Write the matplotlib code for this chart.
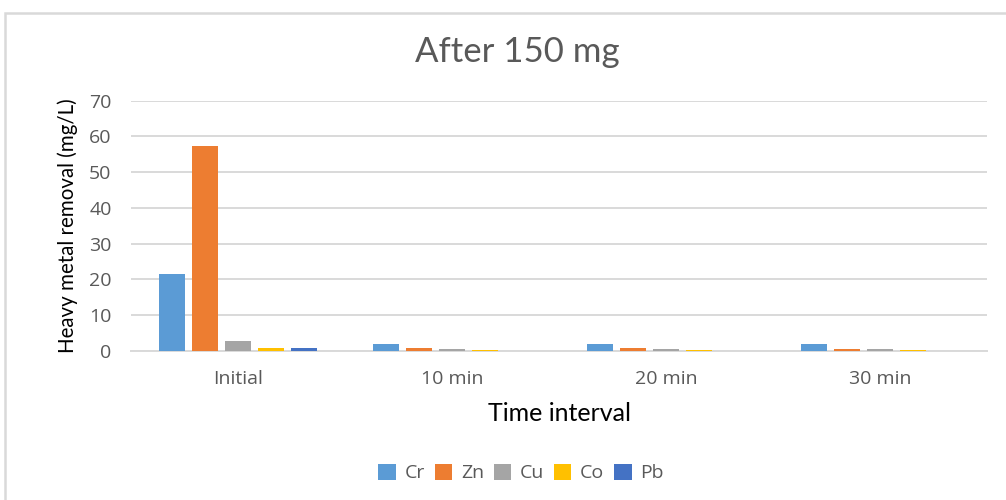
import numpy as np
import matplotlib
matplotlib.use("Agg")
import matplotlib.pyplot as plt
from matplotlib.patches import Rectangle, Patch

# data
categories = ["Initial", "10 min", "20 min", "30 min"]
metals = ["Cr", "Zn", "Cu", "Co", "Pb"]
cr = [21.5, 2.0, 2.0, 2.0]
zn = [57.3, 0.9, 0.9, 0.6]
cu = [2.8, 0.6, 0.6, 0.6]
co = [0.9, 0.3, 0.3, 0.3]
pb = [0.9, 0.0, 0.0, 0.0]
series = [cr, zn, cu, co, pb]
colors = ["#5B9BD5", "#ED7D31", "#A5A5A5", "#FFC000", "#4472C4"]

W, H = 1006, 500
fig = plt.figure(figsize=(W / 100, H / 100), dpi=100)

# chart frame (white area with light grey border)
frame = Rectangle((5 / W, -0.1), 1.1, 1.1 - 13 / H, transform=fig.transFigure,
                  facecolor="white", edgecolor="#D9D9D9", linewidth=1.8, zorder=1)
fig.patches.append(frame)

ax = fig.add_axes([131 / W, 149 / H, 856 / W, 250.3 / H], zorder=2)
ax.patch.set_alpha(0)

x = np.arange(len(categories))
width = 0.1215
step = 0.154
for i, (vals, c, name) in enumerate(zip(series, colors, metals)):
    ax.bar(x + (i - 2) * step, vals, width, color=c, label=name, zorder=3)

ax.set_xlim(-0.5, len(categories) - 0.5)
ax.set_ylim(0, 70)
ax.set_yticks(range(0, 71, 10))
ax.set_xticks(x)
ax.set_xticklabels(categories)
ax.grid(axis="y", color="#D9D9D9", linewidth=1.4, zorder=0)
ax.set_axisbelow(True)
for s in ["top", "right", "left"]:
    ax.spines[s].set_visible(False)
ax.spines["bottom"].set_color("#D9D9D9")
ax.spines["bottom"].set_linewidth(1.4)
ax.tick_params(axis="both", length=0, labelsize=14, colors="#595959")
ax.tick_params(axis="x", pad=14)
ax.tick_params(axis="y", pad=14)
for lab in ax.get_xticklabels() + ax.get_yticklabels():
    lab.set_family("Open Sans")

ax.set_xlabel("Time interval", fontsize=18, family="Lato", color="black", labelpad=10)
ax.set_ylabel("Heavy metal removal (mg/L)", fontsize=14.8, family="Lato", color="black", labelpad=8)

fig.text(517 / W, 1 - 52 / H, "After 150 mg", fontsize=25, family="Lato",
         color="#595959", ha="center", va="center", zorder=3)

handles = [Patch(facecolor=c, label=m) for c, m in zip(colors, metals)]
leg = fig.legend(handles=handles, loc="center", bbox_to_anchor=(521 / W, 1 - 473 / H),
                 ncol=5, frameon=False, handlelength=0.9, handleheight=0.9,
                 handletextpad=0.45, columnspacing=0.5,
                 prop={"family": "Open Sans", "size": 14})
for t in leg.get_texts():
    t.set_color("#595959")

fig.savefig("out.png", dpi=100)
